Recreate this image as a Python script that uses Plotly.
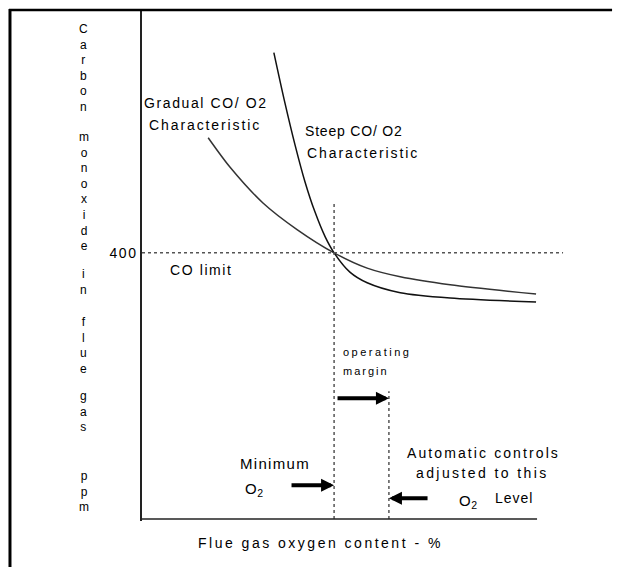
import plotly.graph_objects as go

# ---------------- data ----------------
steep_o2 = [2.67, 2.88, 3.10, 3.30, 3.50, 3.71, 3.89, 4.21, 4.56, 5.23, 6.24, 7.98]
steep_co = [701, 630, 562, 507, 462, 424, 400, 371, 355, 340, 332, 326]
gradual_o2 = [1.34, 1.78, 2.45, 3.14, 3.89, 4.56, 5.23, 6.24, 7.98]
gradual_co = [573, 529, 475, 435, 400, 377, 364, 352, 338]
co_limit = 400
minimum_o2 = 3.89
control_o2 = 5.0
x_axis_end = 8.0
y_tick_values = [400]
y_tick_labels = ["400"]
y_title_words = ["Carbon", "monoxide", "in", "flue", "gas", "ppm"]

# ---------------- geometry helpers (reference pixel coordinates) ----------------
PAGE_OFF = 8              # browser body margin
W, H = 621 - PAGE_OFF, 567 - PAGE_OFF
L_REF, T_REF = 142, 10
PX_X, PX_Y = 49.375, 0.665
x_range = [0, 8.89]
y_range = [-3, 765]
plot_w = (x_range[1] - x_range[0]) * PX_X
plot_h = (y_range[1] - y_range[0]) * PX_Y
ML = L_REF - PAGE_OFF
MT = T_REF - PAGE_OFF
MR = W - ML - plot_w
MB = H - MT - plot_h
FONT = "Liberation Sans, Arial, sans-serif"


def dx(px):
    return x_range[0] + (px - L_REF) / PX_X


def dy(py):
    return y_range[1] - (py - T_REF) / PX_Y


def pxp(px):
    return (px - L_REF) / plot_w


def pyp(py):
    return 1 - (py - T_REF) / plot_h


def ls(text, sp):
    return f'<span style="letter-spacing:{sp}px">{text}</span>'


fig = go.Figure()
fig.add_trace(go.Scatter(x=gradual_o2, y=gradual_co, mode="lines",
                         line=dict(color="#333333", width=1.5, shape="spline", smoothing=0.8),
                         hoverinfo="skip"))
fig.add_trace(go.Scatter(x=steep_o2, y=steep_co, mode="lines",
                         line=dict(color="#111111", width=1.5, shape="spline", smoothing=0.8),
                         hoverinfo="skip"))

shapes = []
dot = dict(color="#555555", width=1.5, dash="dot")
# CO limit line
shapes.append(dict(type="line", xref="x", yref="y", x0=0, x1=dx(563), y0=co_limit, y1=co_limit, line=dot))
# minimum O2 line
shapes.append(dict(type="line", xref="x", yref="y", x0=minimum_o2, x1=minimum_o2, y0=0, y1=dy(203), line=dot))
# control O2 line
shapes.append(dict(type="line", xref="x", yref="y", x0=control_o2, x1=control_o2, y0=0, y1=dy(391), line=dot))
# x axis line
shapes.append(dict(type="line", xref="x", yref="y", x0=0, x1=x_axis_end, y0=0, y1=0,
                   line=dict(color="#222222", width=1.5)))
# outer frame (left and top)
shapes.append(dict(type="line", xref="paper", yref="paper", x0=pxp(10), x1=pxp(10), y0=pyp(9), y1=pyp(570),
                   line=dict(color="black", width=3)))
shapes.append(dict(type="line", xref="paper", yref="paper", x0=pxp(9), x1=pxp(612), y0=pyp(10), y1=pyp(10),
                   line=dict(color="black", width=2.5)))

ann = []


def txt(text, px, py, size=14, anchor="left", sp=1.6):
    ann.append(dict(text=ls(text, sp), x=pxp(px), y=pyp(py), xref="paper", yref="paper",
                    xanchor=anchor, yanchor="middle", showarrow=False,
                    font=dict(family=FONT, size=size, color="black")))


txt("Gradual CO/ O2", 206, 103, anchor="center", sp=1.6)
txt("Characteristic", 205, 125, anchor="center", sp=1.9)
txt("Steep CO/ O2", 303, 131, sp=0.8)
txt("Characteristic", 305, 153, sp=1.9)
txt("CO limit", 168, 270, sp=1.6)
txt("operating", 341, 352, size=11, sp=2.5)
txt("margin", 341, 371, size=11, sp=2.0)
txt("Minimum", 238, 463, size=15, sp=1.3)
txt("O<sub>2</sub>", 243, 489, size=15, sp=0.5)
txt("Automatic controls", 483, 453, size=14, anchor="center", sp=2.1)
txt("adjusted to this", 482, 473, size=14, anchor="center", sp=2.4)
txt("O<sub>2</sub>", 457, 501, size=15, sp=0.5)
txt("Level", 493, 498, size=14, sp=1.0)
txt("Flue gas oxygen content - %", 320, 543, size=14, anchor="center", sp=2.5)

# stacked y-axis title: each word written vertically, one letter per line
word_centres = [68, 191, 282, 345, 411, 491]
for word, cy in zip(y_title_words, word_centres):
    ann.append(dict(text="<br>".join(word), x=pxp(84), y=pyp(cy), xref="paper", yref="paper",
                    xanchor="center", yanchor="middle", showarrow=False, align="center",
                    font=dict(family=FONT, size=12, color="black")))


# arrows
def arrow(x_head, x_tail, y):
    ann.append(dict(text="", x=x_head, y=y, ax=x_tail, ay=y, xref="x", yref="y",
                    axref="x", ayref="y", showarrow=True, arrowhead=2, arrowsize=0.65,
                    arrowwidth=4, arrowcolor="black", standoff=0))


arrow(control_o2, dx(336), dy(398))
arrow(minimum_o2, dx(290), dy(485))
arrow(control_o2, dx(429), dy(498))

fig.update_layout(
    width=W, height=H,
    margin=dict(l=ML, r=MR, t=MT, b=MB, pad=0),
    paper_bgcolor="white", plot_bgcolor="white",
    showlegend=False,
    shapes=shapes, annotations=ann,
    xaxis=dict(range=x_range, showgrid=False, zeroline=False, showline=False,
               showticklabels=False, ticks=""),
    yaxis=dict(range=y_range, showgrid=False, zeroline=False, showline=True,
               linecolor="#222222", linewidth=1.5, ticks="",
               tickvals=y_tick_values, ticktext=[ls(t, 1.5) for t in y_tick_labels],
               tickfont=dict(family=FONT, size=14, color="black")),
)

fig.write_html("out.html")
